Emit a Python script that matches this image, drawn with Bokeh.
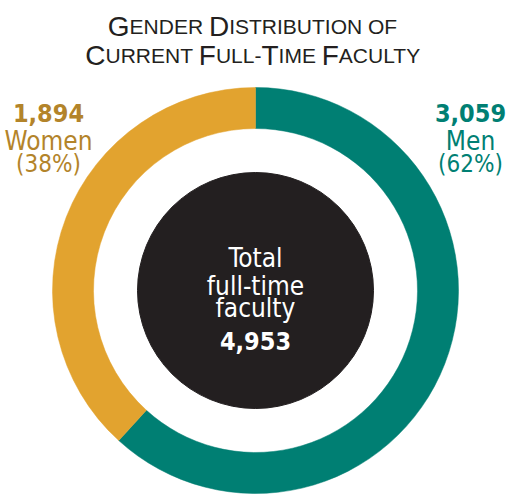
import math
from bokeh.plotting import figure
from bokeh.models import Range1d, ColumnDataSource
from bokeh.core.properties import value
from bokeh.embed import file_html
from bokeh.resources import INLINE

# ---- data ----
groups = ["Men", "Women"]
counts = [3059, 1894]
title_lines = ["Gender Distribution of", "Current Full-Time Faculty"]
center_lines = ["Total", "full-time", "faculty"]

# ---- styles ----
ring_colors = ["#007F73", "#E2A32F"]
label_colors = ["#007F73", "#B3842A"]
ink = "#231F20"
NARROW = "DejaVu Sans Condensed"
REG = "Liberation Sans"

total = sum(counts)
shares = [c / total for c in counts]
pcts = [round(s * 100) for s in shares]

W, H = 506, 494
p = figure(width=W, height=H, x_range=Range1d(0, W), y_range=Range1d(0, H),
           output_backend="svg", toolbar_location=None, min_border=0)
p.axis.visible = False
p.grid.visible = False
p.outline_line_color = None
p.background_fill_color = "white"
p.border_fill_color = "white"

cx, cy = 255, 204
r_out, r_in, r_core = 203, 162, 118

# ring wedges, clockwise from the top
ends, starts = [], []
acc = 0.0
for s in shares:
    e = math.pi / 2 - 2 * math.pi * acc
    st = e - 2 * math.pi * s
    ends.append(e)
    starts.append(st)
    acc += s
ring = ColumnDataSource(dict(start=starts, end=ends, color=ring_colors))
p.annular_wedge(x=cx, y=cy, inner_radius=r_in, outer_radius=r_out,
                start_angle="start", end_angle="end", direction="anticlock",
                fill_color="color", line_color="color", line_width=0.5, source=ring)

p.circle(x=cx, y=cy, radius=r_core, fill_color=ink, line_color=ink)

# side labels
lab_x = [470, 48]
num_src = ColumnDataSource(dict(x=lab_x, y=[382, 382], text=[f"{c:,}" for c in counts], color=label_colors))
p.text(x="x", y="y", text="text", text_color="color", source=num_src,
       text_font=value(NARROW), text_font_style="bold", text_font_size="25px",
       text_align="center", text_baseline="alphabetic")
name_src = ColumnDataSource(dict(x=lab_x, y=[354, 354], text=groups, color=label_colors))
p.text(x="x", y="y", text="text", text_color="color", source=name_src,
       text_font=value(NARROW), text_font_size="26px",
       text_align="center", text_baseline="alphabetic")
pct_src = ColumnDataSource(dict(x=lab_x, y=[331, 331], text=[f"({v}%)" for v in pcts], color=label_colors))
p.text(x="x", y="y", text="text", text_color="color", source=pct_src,
       text_font=value(NARROW), text_font_size="24px",
       text_align="center", text_baseline="alphabetic")

# centre text
p.text(x=[cx] * 3, y=[237, 209, 187], text=center_lines, text_color="white",
       text_font=value(NARROW), text_font_size="26px",
       text_align="center", text_baseline="alphabetic")
p.text(x=[cx], y=[154], text=[f"{total:,}"], text_color="white",
       text_font=value(NARROW), text_font_style="bold", text_font_size="25px",
       text_align="center", text_baseline="alphabetic")

# title in small caps, built from pieces
AW = dict(A=667, B=667, C=722, D=722, E=667, F=611, G=778, H=722, I=278, J=500,
          K=667, L=556, M=833, N=722, O=778, P=667, Q=778, R=722, S=667, T=611,
          U=722, V=667, W=944, X=667, Y=667, Z=611)
AW[" "] = 278
AW["-"] = 333
BIG, SMALL = 28, 21

def pieces(line):
    out = []
    for ch in line:
        big = ch.isupper()
        size = BIG if big else SMALL
        c = ch.upper()
        if out and out[-1][1] == size:
            out[-1][0] += c
        else:
            out.append([c, size])
    return out

tx, ty, tt, ts = [], [], [], []
for line, base, centre in zip(title_lines, [468, 439], [252, 253]):
    segs = pieces(line)
    widths = [sum(AW[c] for c in t) * s / 1000 for t, s in segs]
    x0 = centre - sum(widths) / 2
    for (t, s), w in zip(segs, widths):
        tx.append(x0); ty.append(base); tt.append(t.rstrip()); ts.append(f"{s}px")
        x0 += w
title_src = ColumnDataSource(dict(x=tx, y=ty, text=tt, size=ts))
p.text(x="x", y="y", text="text", text_font_size="size", source=title_src,
       text_color=ink, text_font=value(REG), text_align="left", text_baseline="alphabetic")

open("out.html", "w").write(file_html(p, INLINE))
